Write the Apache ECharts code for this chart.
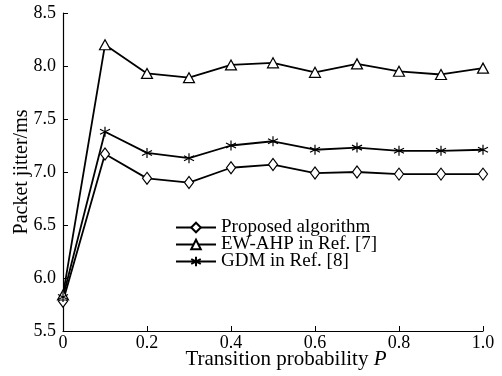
<!DOCTYPE html>
<html>
<head>
<meta charset="utf-8">
<script src="https://cdn.jsdelivr.net/npm/echarts@6/dist/echarts.min.js"></script>
<style>html,body{margin:0;padding:0;background:#fff}#c{width:502px;height:376px}</style>
</head>
<body>
<div id="c"></div>
<script>
// Transition probability P
const probabilities = [0, 0.1, 0.2, 0.3, 0.4, 0.5, 0.6, 0.7, 0.8, 0.9, 1.0];
// Packet jitter (ms) per method
const proposed = [5.78, 7.17, 6.94, 6.90, 7.04, 7.07, 6.99, 7.00, 6.98, 6.98, 6.98];
const ewAhp    = [5.84, 8.20, 7.93, 7.89, 8.01, 8.03, 7.94, 8.02, 7.95, 7.92, 7.98];
const gdm      = [5.82, 7.38, 7.18, 7.13, 7.25, 7.29, 7.21, 7.23, 7.20, 7.20, 7.21];
const seriesNames = ['Proposed algorithm', 'EW-AHP in Ref. [7]', 'GDM in Ref. [8]'];

const font = '"Liberation Serif", "DejaVu Serif", serif';
const asterisk = 'path://M0,-5L0,5M-4.33,-2.5L4.33,2.5M-4.33,2.5L4.33,-2.5';

function pairs(vals) { return probabilities.map((p, i) => [p, vals[i]]); }

function line(name, vals, symbol, size) {
  return {
    name, type: 'line', data: pairs(vals), symbol, symbolSize: size,
    lineStyle: { color: '#000', width: 1.8 },
    itemStyle: { color: symbol === asterisk ? '#000' : '#fff', borderColor: '#000', borderWidth: 1.2 },
    emphasis: { disabled: true }, animation: false
  };
}

const chart = echarts.init(document.getElementById('c'));
chart.setOption({
  animation: false,
  grid: { left: 63, right: 19, top: 13, bottom: 45, containLabel: false, outerBoundsMode: 'none' },
  legend: {
    orient: 'vertical', left: 175, top: 218, itemGap: -2, padding: 0,
    itemWidth: 40, itemHeight: 12,
    textStyle: { fontFamily: font, fontSize: 19, lineHeight: 16.5, color: '#000' },
    data: seriesNames
  },
  xAxis: {
    type: 'value', min: 0, max: 1.0, interval: 0.2,
    name: 'Transition probability {i|P}', nameLocation: 'middle', nameGap: 18,
    nameMoveOverlap: false,
    nameTextStyle: { fontFamily: font, fontSize: 21, color: '#000', padding: [0, 0, 0, 26],
      rich: { i: { fontFamily: font, fontSize: 21, fontStyle: 'italic', color: '#000' } } },
    axisLine: { lineStyle: { color: '#000', width: 1.2 } },
    axisTick: { inside: true, length: 5, lineStyle: { color: '#000' } },
    axisLabel: { fontFamily: font, fontSize: 18, color: '#000', margin: 3,
      formatter: v => v === 0 ? '0' : v.toFixed(1) },
    splitLine: { show: false }
  },
  yAxis: {
    type: 'value', min: 5.5, max: 8.5, interval: 0.5,
    name: 'Packet jitter/ms', nameLocation: 'middle', nameGap: 31,
    nameMoveOverlap: false,
    nameTextStyle: { fontFamily: font, fontSize: 20, color: '#000' },
    axisLine: { show: true, lineStyle: { color: '#000', width: 1.2 } },
    axisTick: { show: true, inside: true, length: 5, lineStyle: { color: '#000' } },
    axisLabel: { fontFamily: font, fontSize: 18, color: '#000', margin: 7,
      formatter: v => v.toFixed(1) },
    splitLine: { show: false }
  },
  series: [
    line(seriesNames[0], proposed, 'diamond', [9, 12]),
    line(seriesNames[1], ewAhp, 'triangle', [11, 10]),
    line(seriesNames[2], gdm, asterisk, 10)
  ]
});
</script>
</body>
</html>
